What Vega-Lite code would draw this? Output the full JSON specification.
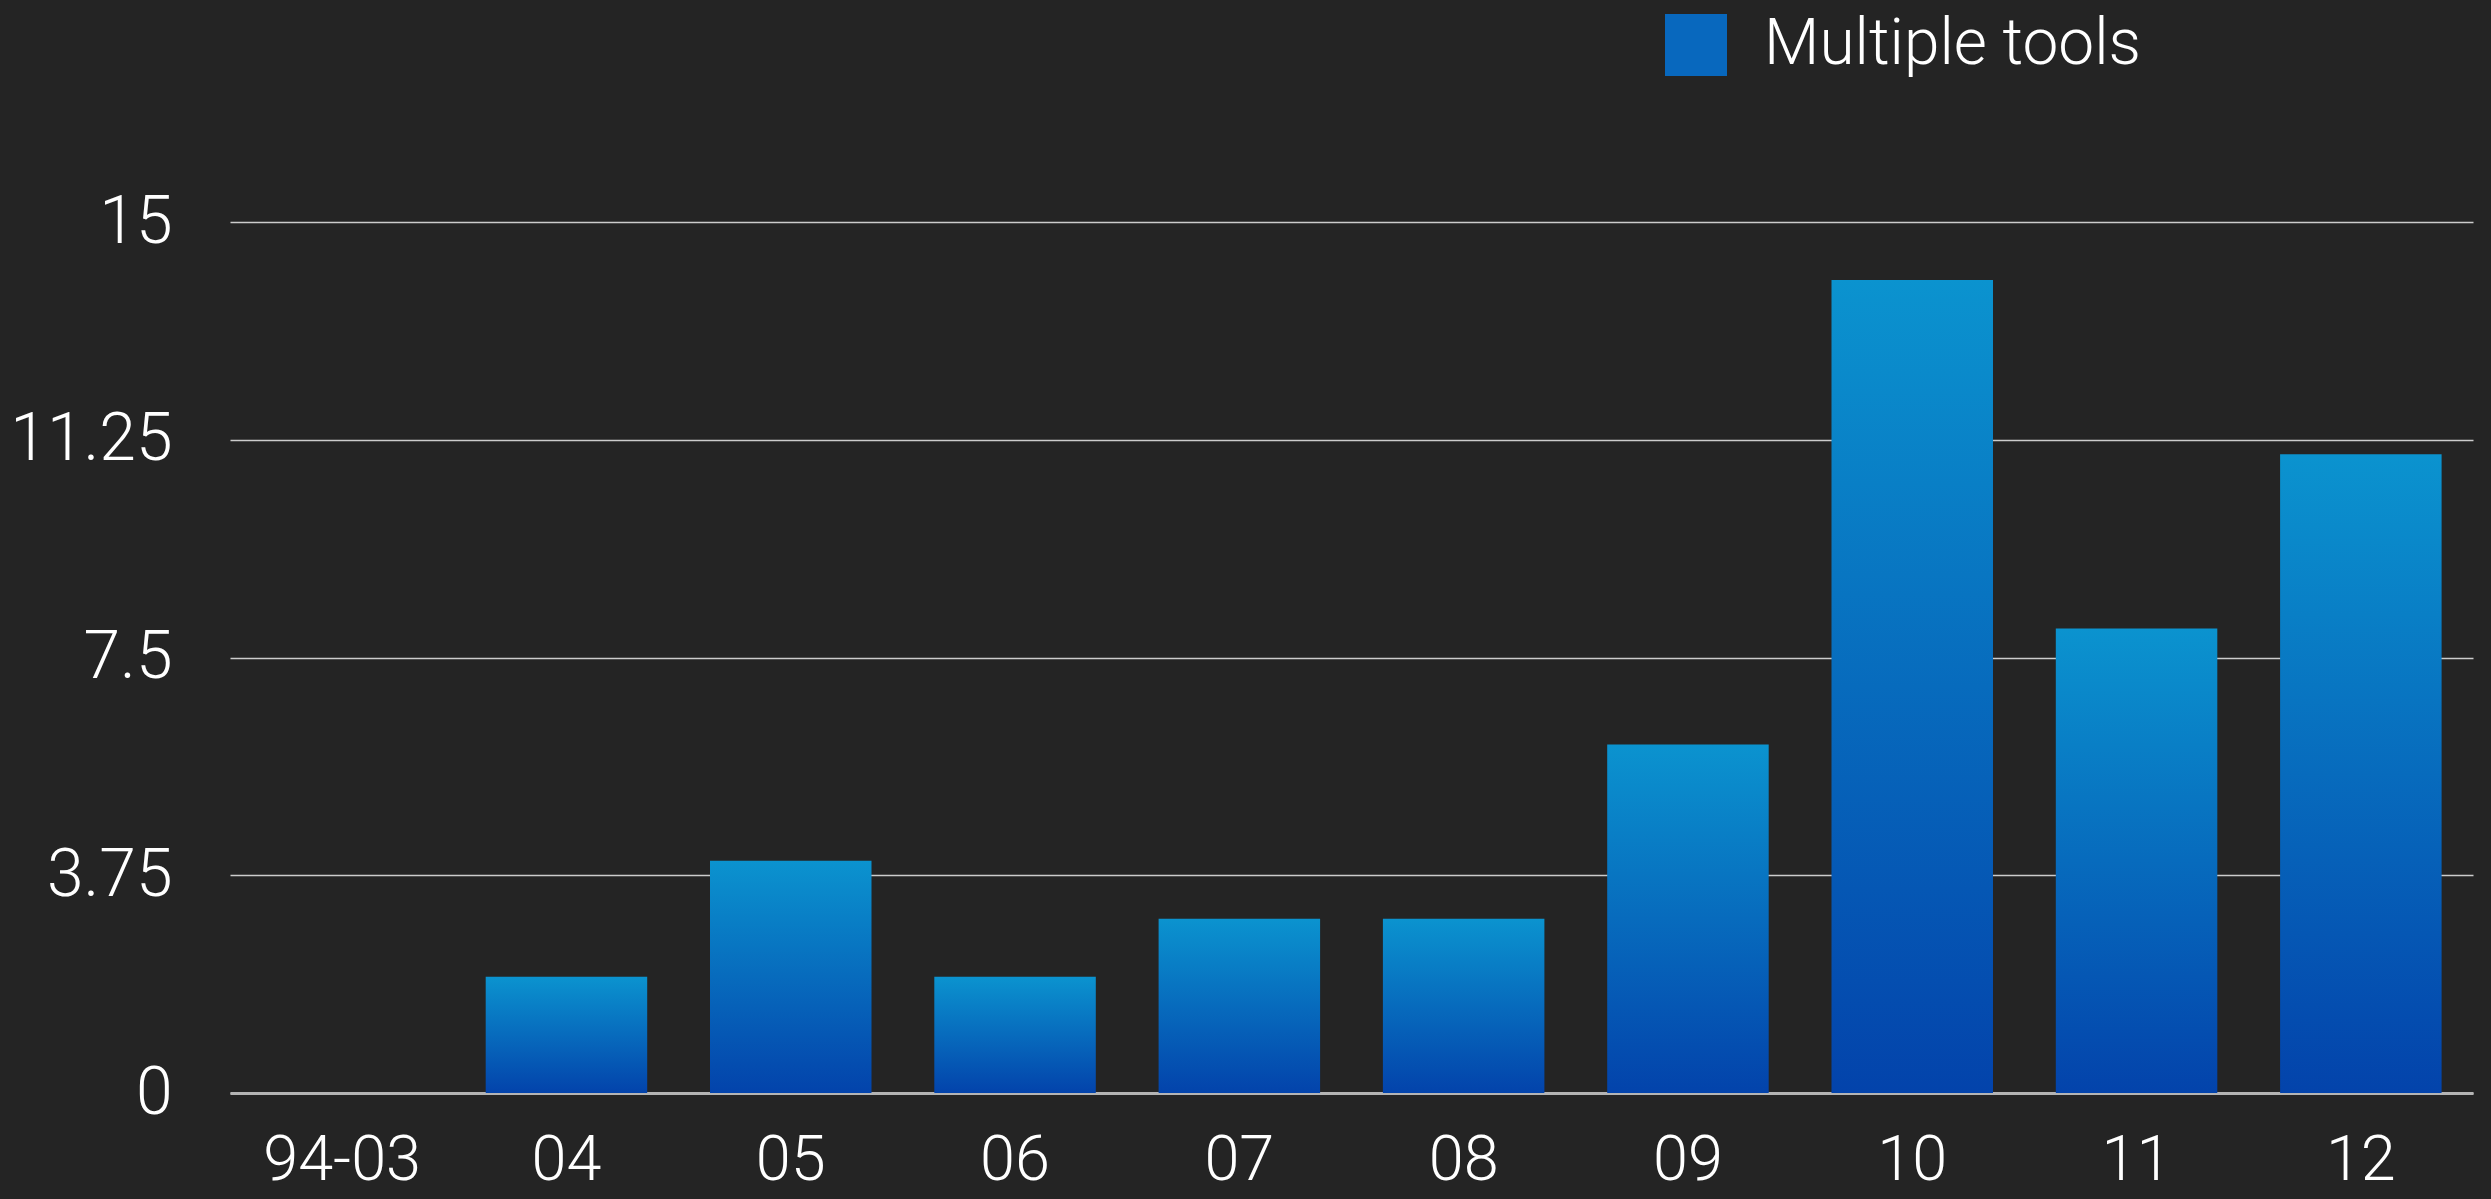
{
  "$schema": "https://vega.github.io/schema/vega-lite/v6.json",
  "width": 2243,
  "height": 871,
  "autosize": {"type": "none"},
  "padding": {"left": 230, "top": 222, "right": 18, "bottom": 106},
  "background": "#242424",
  "data": {
    "values": [
      {"period": "94-03", "value": 0, "series": "Multiple tools"},
      {"period": "04", "value": 2, "series": "Multiple tools"},
      {"period": "05", "value": 4, "series": "Multiple tools"},
      {"period": "06", "value": 2, "series": "Multiple tools"},
      {"period": "07", "value": 3, "series": "Multiple tools"},
      {"period": "08", "value": 3, "series": "Multiple tools"},
      {"period": "09", "value": 6, "series": "Multiple tools"},
      {"period": "10", "value": 14, "series": "Multiple tools"},
      {"period": "11", "value": 8, "series": "Multiple tools"},
      {"period": "12", "value": 11, "series": "Multiple tools"}
    ]
  },
  "mark": {
    "type": "bar",
    "fill": {
      "gradient": "linear",
      "x1": 0, "y1": 0, "x2": 0, "y2": 1,
      "stops": [
        {"offset": 0, "color": "#0b93cf"},
        {"offset": 1, "color": "#0343ab"}
      ]
    }
  },
  "encoding": {
    "x": {
      "field": "period",
      "type": "ordinal",
      "sort": null,
      "scale": {"paddingInner": 0.28, "paddingOuter": 0.14},
      "axis": {
        "title": null,
        "labelAngle": 0,
        "ticks": false,
        "labelPadding": 36,
        "labelFontSize": 63,
        "labelFont": "Roboto",
        "labelFontWeight": 300,
        "labelColor": "#ffffff",
        "domainColor": "#b4b4b4",
        "domainWidth": 3,
        "grid": false
      }
    },
    "y": {
      "field": "value",
      "type": "quantitative",
      "scale": {"domain": [0, 15]},
      "axis": {
        "title": null,
        "values": [0, 3.75, 7.5, 11.25, 15],
        "labelExpr": "'' + datum.value",
        "ticks": false,
        "domain": false,
        "labelPadding": 58,
        "labelFontSize": 66,
        "labelFont": "Roboto",
        "labelFontWeight": 300,
        "labelColor": "#ffffff",
        "gridColor": "#cccccc",
        "gridWidth": 1.5
      }
    },
    "color": {
      "field": "series",
      "type": "nominal",
      "scale": {"range": ["#0868be"]},
      "legend": {
        "title": null,
        "orient": "none",
        "legendX": 1434,
        "legendY": -209,
        "padding": 0,
        "symbolType": "square",
        "symbolSize": 3844,
        "symbolStrokeWidth": 0,
        "symbolOpacity": 1,
        "labelFontSize": 64,
        "labelFont": "Roboto",
        "labelFontWeight": 300,
        "labelColor": "#ffffff",
        "labelOffset": 36,
        "labelLimit": 0
      }
    }
  },
  "config": {"view": {"stroke": null}}
}
